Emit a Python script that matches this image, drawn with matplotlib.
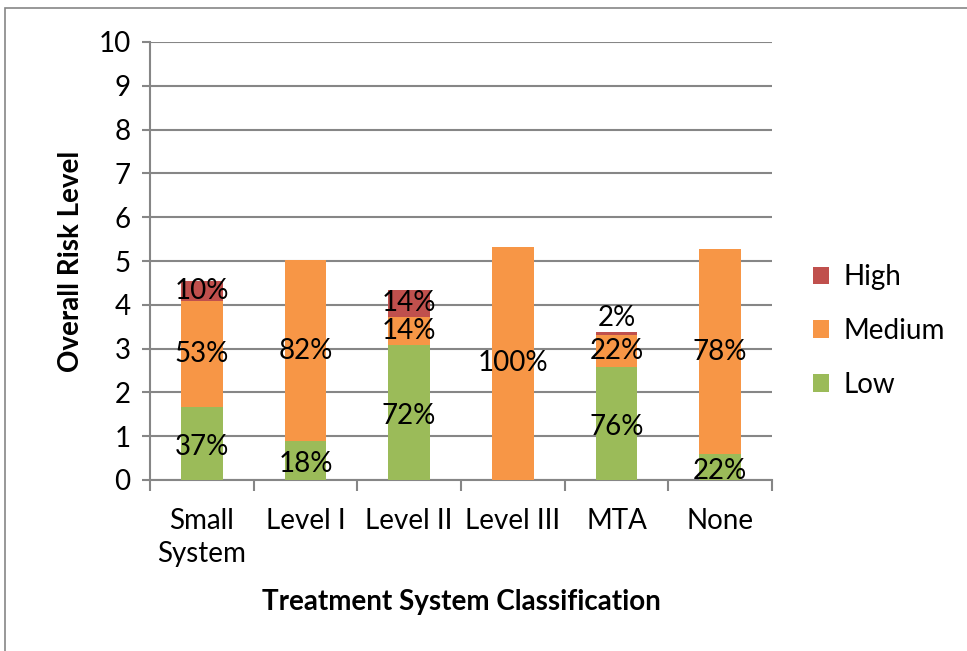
import matplotlib.pyplot as plt
from matplotlib.patches import Rectangle

plt.rcParams['font.family'] = ['Lato', 'DejaVu Sans']

categories = ['Small\nSystem', 'Level I', 'Level II', 'Level III', 'MTA', 'None']
low = [1.67, 0.89, 3.08, 0.0, 2.58, 0.59]
medium = [2.42, 4.13, 0.64, 5.32, 0.74, 4.68]
high = [0.45, 0.0, 0.62, 0.0, 0.07, 0.0]

low_labels = ['37%', '18%', '72%', '', '76%', '22%']
medium_labels = ['53%', '82%', '14%', '100%', '22%', '78%']
high_labels = ['10%', '', '14%', '', '2%', '']

GREEN = '#9BBB59'
ORANGE = '#F79646'
RED = '#C0504D'
GRID = '#868686'

fig = plt.figure(figsize=(9.67, 6.51), dpi=100)
ax = fig.add_axes([150 / 967, 1 - 480 / 651, 622 / 967, 438 / 651])

# outer chart frame
fig.patches.append(Rectangle((5 / 967, -0.01), 1.0, 1 - 8 / 651 + 0.01,
                             transform=fig.transFigure, fill=False,
                             edgecolor=GRID, linewidth=1.2))

x = list(range(len(categories)))
w = 0.4
bottom_high = [l + m for l, m in zip(low, medium)]

ax.bar(x, low, w, color=GREEN, label='Low', zorder=3)
ax.bar(x, medium, w, bottom=low, color=ORANGE, label='Medium', zorder=3)
ax.bar(x, high, w, bottom=bottom_high, color=RED, label='High', zorder=3)

fs = 20
for i in x:
    if low_labels[i]:
        ax.text(i, low[i] / 2 - 0.08, low_labels[i], ha='center', va='center',
                fontsize=fs, zorder=4)
    if medium_labels[i]:
        ax.text(i, low[i] + medium[i] / 2, medium_labels[i], ha='center',
                va='center', fontsize=fs, zorder=4)
    if high_labels[i]:
        yh = bottom_high[i] + high[i] / 2
        if high[i] < 0.2:
            # tiny segment: label sits just above the bar
            yh = bottom_high[i] + high[i] + 0.3
        ax.text(i, yh, high_labels[i], ha='center', va='center',
                fontsize=fs, zorder=4)

ax.set_xlim(-0.5, 5.5)
ax.set_ylim(0, 10)
ax.set_yticks(range(0, 11))
ax.yaxis.grid(True, color=GRID, linewidth=1.5, zorder=0)
ax.set_axisbelow(True)

ax.set_xticks(x)
ax.set_xticklabels(categories, fontsize=fs, linespacing=1.35)
ax.set_xticks([i - 0.5 for i in range(len(categories) + 1)], minor=True)
ax.tick_params(axis='x', which='major', length=0, pad=20)
ax.tick_params(axis='x', which='minor', length=8, color=GRID, width=1.5,
               direction='out')
ax.tick_params(axis='y', labelsize=fs, length=6, color=GRID, width=1.5, pad=8)

for s in ['top', 'right']:
    ax.spines[s].set_visible(False)
for s in ['left', 'bottom']:
    ax.spines[s].set_color(GRID)
    ax.spines[s].set_linewidth(1.5)

ax.set_ylabel('Overall Risk Level', fontsize=20, fontweight='bold', labelpad=10)
ax.set_xlabel('Treatment System Classification', fontsize=20,
              fontweight='bold', labelpad=16)

h, l = ax.get_legend_handles_labels()
ax.legend(h[::-1], l[::-1], loc='center left', bbox_to_anchor=(1.025, 0.34),
          frameon=False, fontsize=fs, handlelength=0.6, handleheight=0.6,
          labelspacing=1.0, handletextpad=0.5)

fig.savefig('out.png', dpi=100)
